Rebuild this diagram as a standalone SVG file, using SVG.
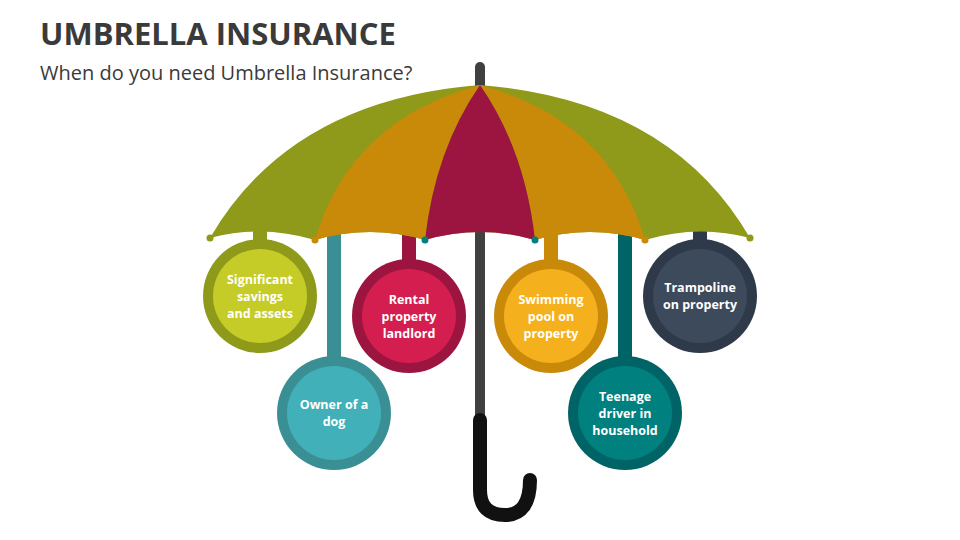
<svg xmlns="http://www.w3.org/2000/svg" width="960" height="540" viewBox="0 0 960 540">
<style>
.t{font-family:"Open Sans","Liberation Sans",sans-serif;font-weight:bold;font-size:12.5px;fill:#fff;text-anchor:middle}
</style>
<rect width="960" height="540" fill="#fff"/>
<text x="40" y="45" font-family="Open Sans, Liberation Sans, sans-serif" font-weight="bold" font-size="31" fill="#3a3a3a">UMBRELLA INSURANCE</text>
<text x="40" y="80" font-family="Open Sans, Liberation Sans, sans-serif" font-size="20" fill="#3a3a3a">When do you need Umbrella Insurance?</text>
<g id="connectors">
<rect x="253" y="222" width="14" height="25" fill="#8f9a1a"/>
<rect x="327" y="228" width="14" height="135" fill="#3a8f94"/>
<rect x="402" y="228" width="14" height="37" fill="#9b1540"/>
<rect x="544" y="228" width="14" height="37" fill="#c98a0a"/>
<rect x="618" y="228" width="14" height="135" fill="#006466"/>
<rect x="693" y="222" width="14" height="25" fill="#2e3a4a"/>
</g>
<g id="umbrella">
<rect x="475" y="62" width="10" height="360" rx="5" fill="#404040"/>
<path d="M480,420 L480,490 Q480,515 505,515 Q530,515 530,480" fill="none" stroke="#111" stroke-width="14" stroke-linecap="round"/>
<path d="M480,85 Q290,100 210,238 Q262,224 315,240 Q370,224 425,240 Q480,224 535,240 Q590,224 645,240 Q698,224 750,238 Q670,100 480,85Z" fill="#8f9a1a"/>
<path d="M480,85 Q350,120 315,240 Q370,224 425,240 Q435,150 480,85Z" fill="#c98a0a"/>
<path d="M480,85 Q610,120 645,240 Q590,224 535,240 Q525,150 480,85Z" fill="#c98a0a"/>
<path d="M480,85 Q435,150 425,240 Q480,224 535,240 Q525,150 480,85Z" fill="#9b1540"/>
<circle cx="210" cy="238" r="3.5" fill="#8f9a1a"/>
<circle cx="315" cy="240" r="3.5" fill="#c98a0a"/>
<circle cx="425" cy="240" r="3.5" fill="#00807f"/>
<circle cx="535" cy="240" r="3.5" fill="#00807f"/>
<circle cx="645" cy="240" r="3.5" fill="#c98a0a"/>
<circle cx="750" cy="238" r="3.5" fill="#8f9a1a"/>
</g>
<g id="n1"><circle cx="260" cy="296" r="57" fill="#8f9a1a"/><circle cx="260" cy="296" r="47" fill="#c5cc28"/>
<text class="t" x="260" y="284">Significant</text><text class="t" x="260" y="301">savings</text><text class="t" x="260" y="318">and assets</text></g>
<g id="n2"><circle cx="334" cy="413" r="57" fill="#3a8f94"/><circle cx="334" cy="413" r="47" fill="#42b0b8"/>
<text class="t" x="334" y="409">Owner of a</text><text class="t" x="334" y="426">dog</text></g>
<g id="n3"><circle cx="409" cy="316" r="57" fill="#9b1540"/><circle cx="409" cy="316" r="47" fill="#d41e4f"/>
<text class="t" x="409" y="304">Rental</text><text class="t" x="409" y="321">property</text><text class="t" x="409" y="338">landlord</text></g>
<g id="n4"><circle cx="551" cy="316" r="57" fill="#c98a0a"/><circle cx="551" cy="316" r="47" fill="#f5b01e"/>
<text class="t" x="551" y="304">Swimming</text><text class="t" x="551" y="321">pool on</text><text class="t" x="551" y="338">property</text></g>
<g id="n5"><circle cx="625" cy="413" r="57" fill="#006466"/><circle cx="625" cy="413" r="47" fill="#00807f"/>
<text class="t" x="625" y="401">Teenage</text><text class="t" x="625" y="418">driver in</text><text class="t" x="625" y="435">household</text></g>
<g id="n6"><circle cx="700" cy="296" r="57" fill="#2e3a4a"/><circle cx="700" cy="296" r="47" fill="#3d4a5c"/>
<text class="t" x="700" y="292">Trampoline</text><text class="t" x="700" y="309">on property</text></g>
</svg>
